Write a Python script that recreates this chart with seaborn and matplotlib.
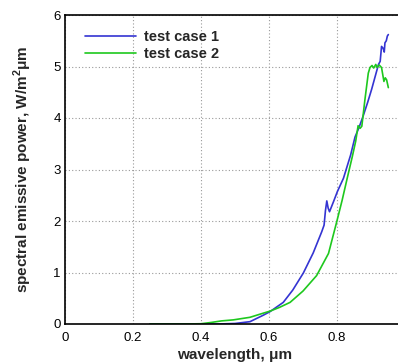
import matplotlib
matplotlib.use("Agg")
import matplotlib.pyplot as plt
import seaborn as sns
import pandas as pd
from matplotlib.ticker import MultipleLocator

# ---- data ----
x_case1 = [0.25, 0.30, 0.35, 0.40, 0.45, 0.50, 0.544, 0.583, 0.603, 0.642, 0.67, 0.701, 0.73,
           0.755, 0.762, 0.766, 0.770, 0.774, 0.778, 0.79, 0.801, 0.819, 0.84, 0.853, 0.865,
           0.877, 0.89, 0.902, 0.912, 0.922, 0.927, 0.931, 0.936, 0.939, 0.941, 0.945, 0.948,
           0.951]
y_case1 = [0, 0, 0, 0, 0.0, 0.01, 0.045, 0.17, 0.24, 0.42, 0.66, 0.99, 1.38,
           1.79, 1.92, 2.20, 2.39, 2.25, 2.18, 2.38, 2.57, 2.83, 3.28, 3.63, 3.82,
           4.04, 4.30, 4.56, 4.80, 5.04, 5.10, 5.39, 5.35, 5.28, 5.46, 5.50, 5.59,
           5.62]

x_case2 = [0.25, 0.30, 0.35, 0.40, 0.43, 0.46, 0.495, 0.544, 0.583, 0.603, 0.63, 0.662, 0.70,
           0.74, 0.775, 0.799, 0.815, 0.83, 0.845, 0.855, 0.862, 0.868, 0.873, 0.882, 0.892,
           0.897, 0.903, 0.908, 0.914, 0.918, 0.924, 0.931, 0.938, 0.942, 0.946, 0.951]
y_case2 = [0, 0, 0, 0.005, 0.03, 0.06, 0.08, 0.13, 0.21, 0.25, 0.32, 0.42, 0.64,
           0.94, 1.37, 1.98, 2.40, 2.83, 3.25, 3.55, 3.85, 3.80, 3.84, 4.35, 4.87,
           4.98, 5.02, 4.97, 5.04, 4.98, 5.03, 4.98, 4.71, 4.78, 4.74, 4.59]

labels = ["test case 1", "test case 2"]
colors = ["#3434d2", "#1ec81e"]

x_ticks = [0, 0.2, 0.4, 0.6, 0.8]
x_ticklabels = ["0", "0.2", "0.4", "0.6", "0.8"]
y_ticks = [0, 1, 2, 3, 4, 5, 6]

sns.set_style("white")
plt.rcParams['font.family'] = ['Liberation Sans', 'DejaVu Sans']
plt.rcParams['mathtext.fontset'] = 'custom'
plt.rcParams['mathtext.rm'] = 'Liberation Sans'
plt.rcParams['mathtext.bf'] = 'Liberation Sans:bold'

fig = plt.figure(figsize=(3.98, 3.63), dpi=100)
ax = fig.add_axes([65/398, 39/363, 340/398, 309/363])

df1 = pd.DataFrame({"x": x_case1, "y": y_case1})
df2 = pd.DataFrame({"x": x_case2, "y": y_case2})
sns.lineplot(data=df1, x="x", y="y", ax=ax, color=colors[0], lw=1.2, label=labels[0],
             estimator=None, sort=False)
sns.lineplot(data=df2, x="x", y="y", ax=ax, color=colors[1], lw=1.2, label=labels[1],
             estimator=None, sort=False)

ax.set_xlim(0, 1.0)
ax.set_ylim(0, 6)
ax.set_xticks(x_ticks)
ax.set_xticklabels(x_ticklabels)
ax.set_yticks(y_ticks)
ax.xaxis.set_minor_locator(MultipleLocator(0.05))
ax.yaxis.set_minor_locator(MultipleLocator(0.2))
ax.tick_params(which='major', direction='in', length=6, width=1, labelsize=9.5,
               colors='black', pad=3)
ax.tick_params(axis='x', which='major', pad=6)
ax.tick_params(which='minor', direction='in', length=3, width=0.8, colors='black')
ax.tick_params(top=False, right=False)
ax.grid(True, which='major', linestyle=(0, (1, 2)), color='#999999', lw=0.8)
for s in ax.spines.values():
    s.set_color('black')
    s.set_linewidth(1.2)

ax.set_xlabel("wavelength, μm", fontsize=11, fontweight='bold', labelpad=3)
ax.set_ylabel("spectral emissive power, W/m$^\\mathbf{2}$μm", fontsize=11, fontweight='bold',
              labelpad=14)

leg = ax.legend(loc='upper left', frameon=False, prop={'weight': 'bold', 'size': 10.5},
                handlelength=3.5, borderaxespad=0.3, labelspacing=0.25, handletextpad=0.5,
                bbox_to_anchor=(0.03, 0.985))

fig.savefig("out.png", dpi=100)
